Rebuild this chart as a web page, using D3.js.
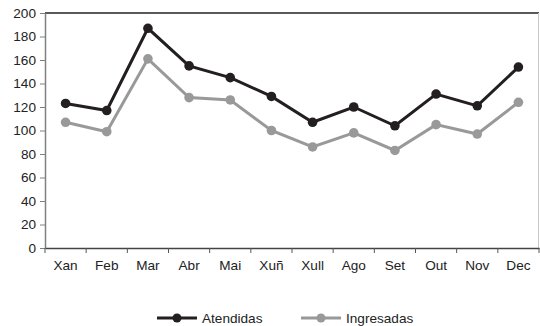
<!DOCTYPE html>
<html>
<head>
<meta charset="utf-8">
<script src="https://cdn.jsdelivr.net/npm/d3@7"></script>
<style>
  body { margin: 0; background: #fff; }
  svg text { font-family: "Liberation Sans", Arial, sans-serif; }
</style>
</head>
<body>
<svg id="chart" width="540" height="326"></svg>
<script>
const months = ["Xan", "Feb", "Mar", "Abr", "Mai", "Xuñ", "Xull", "Ago", "Set", "Out", "Nov", "Dec"];
const atendidas = [123, 117, 187, 155, 145, 129, 107, 120, 104, 131, 121, 154];
const ingresadas = [107, 99, 161, 128, 126, 100, 86, 98, 83, 105, 97, 124];
const yTicks = [0, 20, 40, 60, 80, 100, 120, 140, 160, 180, 200];

const series = [
  { name: "Atendidas", values: atendidas, color: "#231f20" },
  { name: "Ingresadas", values: ingresadas, color: "#999999" }
];

const margin = { top: 13, right: 1, bottom: 78, left: 45 };
const width = 540, height = 326;
const fontSize = 13.6;

const svg = d3.select("#chart");

const x = d3.scaleBand()
  .domain(months)
  .range([margin.left, width - margin.right]);

const y = d3.scaleLinear()
  .domain([0, 200])
  .range([height - margin.bottom, margin.top]);

// plot frame: top dark, right light
svg.append("line")
  .attr("x1", margin.left).attr("x2", width - margin.right)
  .attr("y1", margin.top).attr("y2", margin.top)
  .attr("stroke", "#222").attr("stroke-width", 1.5);
svg.append("line")
  .attr("x1", width - margin.right - 0.5).attr("x2", width - margin.right - 0.5)
  .attr("y1", margin.top).attr("y2", height - margin.bottom)
  .attr("stroke", "#c8c8c8").attr("stroke-width", 1);

// y axis
const yAxis = svg.append("g")
  .attr("transform", `translate(${margin.left},0)`)
  .call(d3.axisLeft(y).tickValues(yTicks).tickSize(5).tickSizeOuter(0).tickPadding(4));
yAxis.select(".domain").attr("stroke", "#808080").attr("stroke-width", 1.5);
yAxis.selectAll(".tick line").attr("stroke", "#808080");
yAxis.selectAll("text").attr("font-size", fontSize).attr("fill", "#222");

// x axis, ticks between categories
const xAxis = svg.append("g")
  .attr("transform", `translate(0,${height - margin.bottom})`)
  .call(d3.axisBottom(x).tickSize(0).tickPadding(12));
xAxis.select(".domain").attr("stroke", "#444").attr("stroke-width", 1.5);
xAxis.selectAll("text").attr("font-size", fontSize).attr("fill", "#222");
xAxis.selectAll(".sep")
  .data(months.map(m => x(m)).concat([width - margin.right]))
  .join("line")
  .attr("class", "sep")
  .attr("x1", d => d).attr("x2", d => d)
  .attr("y1", 0).attr("y2", 5)
  .attr("stroke", "#555");

const line = d3.line()
  .x((d, i) => x(months[i]) + x.bandwidth() / 2)
  .y(d => y(d));

// draw lower (gray) series first so black sits on top
[...series].reverse().forEach(s => {
  const g = svg.append("g");
  g.append("path")
    .datum(s.values)
    .attr("d", line)
    .attr("fill", "none")
    .attr("stroke", s.color)
    .attr("stroke-width", 3);
  g.selectAll("circle")
    .data(s.values)
    .join("circle")
    .attr("cx", (d, i) => x(months[i]) + x.bandwidth() / 2)
    .attr("cy", d => y(d))
    .attr("r", 4.8)
    .attr("fill", s.color);
});

// legend
const legendX = [157, 301];
const legendY = 318;
series.forEach((s, i) => {
  const g = svg.append("g").attr("transform", `translate(${legendX[i]},${legendY})`);
  g.append("line")
    .attr("x1", 0).attr("x2", 40)
    .attr("stroke", s.color).attr("stroke-width", 3);
  g.append("circle").attr("cx", 20).attr("r", 4.5).attr("fill", s.color);
  g.append("text")
    .attr("x", 45).attr("dy", "0.35em")
    .attr("font-size", fontSize).attr("fill", "#222")
    .text(s.name);
});
</script>
</body>
</html>
